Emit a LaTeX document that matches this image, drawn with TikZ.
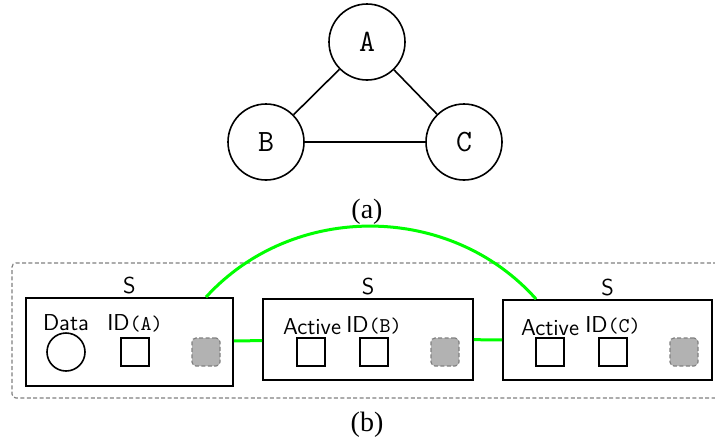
\documentclass[tikz,border=0pt]{standalone}
\usepackage{fontspec}
\setmainfont{Liberation Serif}
\usetikzlibrary{positioning,calc}
\tikzset{> = stealth}
\newcommand{\idtt}[1]{{\ttfamily\fontsize{10.5}{12}\selectfont #1}}

\begin{document}
\begin{tikzpicture}[x=0.5pt, y=-0.5pt,
  vertex/.style={circle, draw, line width=0.8pt, minimum size=38pt, inner sep=0pt, font=\ttfamily\fontsize{15.5}{17}\selectfont},
  edge/.style={line width=0.8pt},
  capt/.style={font=\fontsize{14}{16}\selectfont},
  stbox/.style={draw, line width=0.9pt, inner sep=0pt},
  lbl/.style={inner sep=0pt, font=\sffamily\fontsize{11.5}{13}\selectfont},
  txt/.style={anchor=base, inner sep=0pt, font=\sffamily\fontsize{11.5}{13}\selectfont},
  cell/.style={draw, line width=0.8pt, minimum size=14pt, inner sep=0pt},
  disc/.style={circle, draw, line width=0.8pt, minimum size=19pt, inner sep=0pt},
  pad/.style={draw=gray, fill=black!30, dash pattern=on 2pt off 1.2pt, rounded corners=2pt, line width=0.6pt, minimum size=14pt, inner sep=0pt},
  link/.style={green, line width=1.5pt},
  frame/.style={gray, dash pattern=on 2pt off 1.2pt, rounded corners=2pt, line width=0.6pt}]
\useasboundingbox (0,0) rectangle (715,446);

% graph
\node[vertex] (A) at (367,42)  {A};
\node[vertex] (B) at (266,142) {B};
\node[vertex] (C) at (464,142) {C};
\draw[edge] (A) -- (B) (A) -- (C) (B) -- (C);
\node[capt] (capa) at (367,212) {(a)};

% stores
\draw[frame] (730,263) -- (12,263) -- (12,398) -- (730,398);
\node[stbox, minimum width=103.5pt, minimum height=44pt] (SA) at (129.5,342) {};
\node[stbox, minimum width=105pt, minimum height=40.5pt] (SB) at (368,339.5) {};
\node[stbox, minimum width=104.5pt, minimum height=40pt] (SC) at (607.5,340) {};
\node[lbl, above=1.5pt of SA] (sA) {S};
\node[lbl, above=1.5pt of SB] (sB) {S};
\node[lbl, above=1.5pt of SC] (sC) {S};

% store A
\node[txt] (dataL) at (66,330) {Data};
\node[disc] (data) at (66,352) {};
\node[txt] (idAL) at (135,330) {ID\idtt{(A)}};
\node[cell] (idA) at (135,352) {};
\node[pad] (padA) at (206,352) {};

% store B
\node[txt] (actBL) at (312,334) {Active};
\node[cell] (actB) at (311,352) {};
\node[txt] (idBL) at (374,332) {ID\idtt{(B)}};
\node[cell] (idB) at (374,352) {};
\node[pad] (padB) at (445,352) {};

% store C
\node[txt] (actCL) at (550,335) {Active};
\node[cell] (actC) at (550,352) {};
\node[txt] (idCL) at (613,332) {ID\idtt{(C)}};
\node[cell] (idC) at (613,352) {};
\node[pad] (padC) at (684,352) {};

% links
\draw[link] (SA) -- (SB);
\draw[link] (SB) -- (SC);
\draw[link] (padA |- SA.north) to[bend left=48] ($(SC.north west)+(34,0)$);

\node[capt] (capb) at (367,425) {(b)};
\end{tikzpicture}
\end{document}
